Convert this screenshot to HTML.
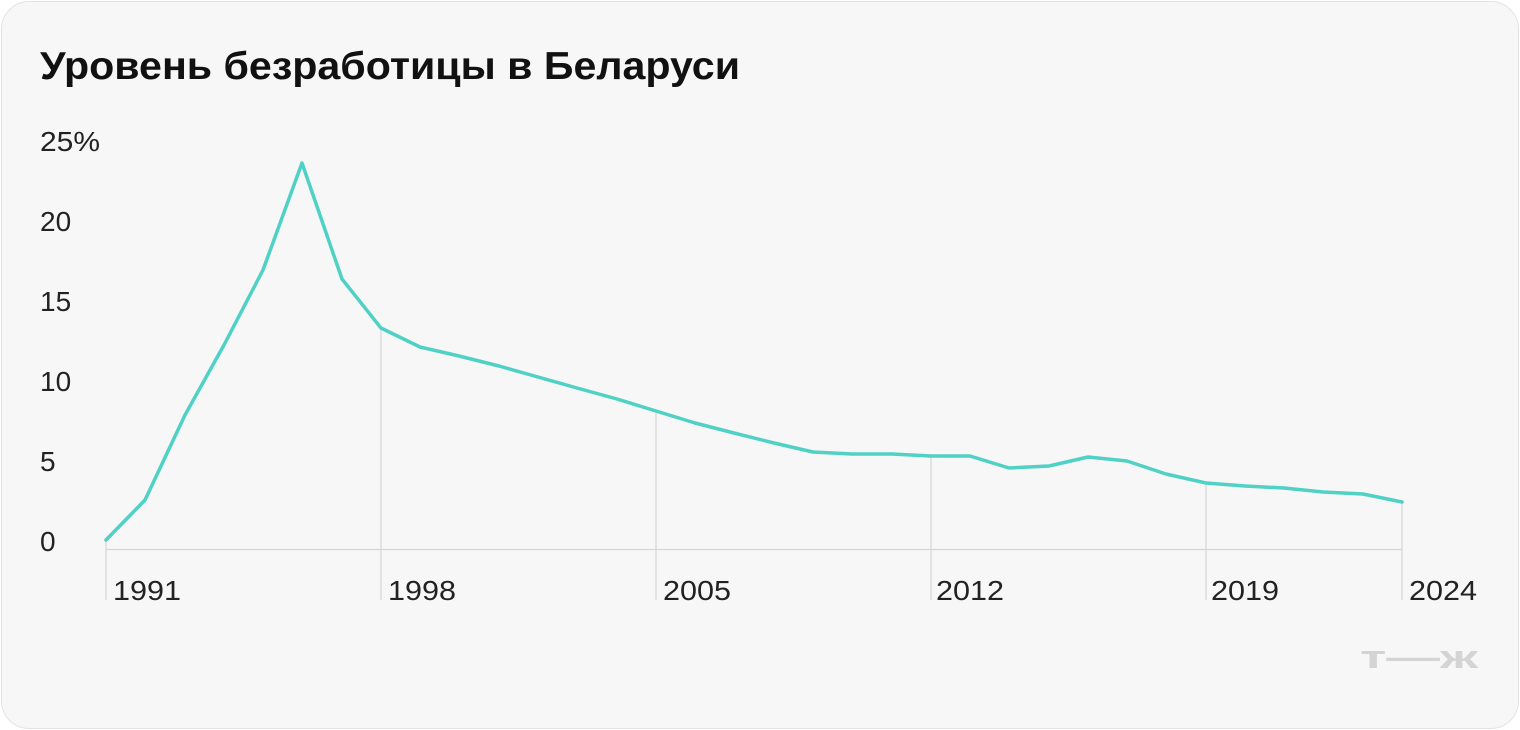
<!DOCTYPE html>
<html><head><meta charset="utf-8"><style>
html,body{margin:0;padding:0;background:#fff;}
.card{position:absolute;left:1px;top:1px;width:1516px;height:726px;border:1px solid #e3e3e3;border-radius:28px;background:#f7f7f7;}
svg{position:absolute;left:0;top:0;}
text{font-family:"Liberation Sans",sans-serif;}
</style></head><body>
<div class="card"></div>
<svg width="1520" height="730" viewBox="0 0 1520 730">
<text x="40" y="79" font-size="39" font-weight="bold" fill="#111" textLength="700" lengthAdjust="spacingAndGlyphs">Уровень безработицы в Беларуси</text>
<g font-size="28" fill="#222">
<text x="40" y="151" textLength="60" lengthAdjust="spacingAndGlyphs">25%</text>
<text x="40" y="231">20</text>
<text x="40" y="311">15</text>
<text x="40" y="391">10</text>
<text x="40" y="471">5</text>
<text x="40" y="551">0</text>
</g>
<g stroke="#d6d6d6" stroke-width="1.2">
<line x1="106" y1="540" x2="106" y2="600"/>
<line x1="381" y1="328" x2="381" y2="600"/>
<line x1="656" y1="411" x2="656" y2="600"/>
<line x1="931" y1="456" x2="931" y2="600"/>
<line x1="1206" y1="483" x2="1206" y2="600"/>
<line x1="1402" y1="502" x2="1402" y2="600"/>
<line x1="106" y1="549.5" x2="1402" y2="549.5"/>
</g>
<g font-size="28" fill="#222">
<text x="113" y="600" textLength="68" lengthAdjust="spacingAndGlyphs">1991</text>
<text x="388" y="600" textLength="68" lengthAdjust="spacingAndGlyphs">1998</text>
<text x="663" y="600" textLength="68" lengthAdjust="spacingAndGlyphs">2005</text>
<text x="936" y="600" textLength="68" lengthAdjust="spacingAndGlyphs">2012</text>
<text x="1211" y="600" textLength="68" lengthAdjust="spacingAndGlyphs">2019</text>
<text x="1409" y="600" textLength="68" lengthAdjust="spacingAndGlyphs">2024</text>
</g>
<polyline fill="none" stroke="#4fd1c5" stroke-width="3.5" stroke-linejoin="round" stroke-linecap="round" points="106,540 145,500 185,415 224,345 263,270 302,163 342,279 381,328 420,347 459,356 499,366 538,377 577,388 617,399 656,411 695,423 734,433 774,443 813,452 852,454 892,454 931,456 970,456 1009,468 1049,466 1088,457 1127,461 1166,474 1206,483 1245,486 1284,488 1323,492 1363,494 1402,502"/>
<text x="1360" y="668" font-size="32" font-weight="bold" fill="#d4d4d4" textLength="118" lengthAdjust="spacingAndGlyphs">т—ж</text>
</svg>
</body></html>
